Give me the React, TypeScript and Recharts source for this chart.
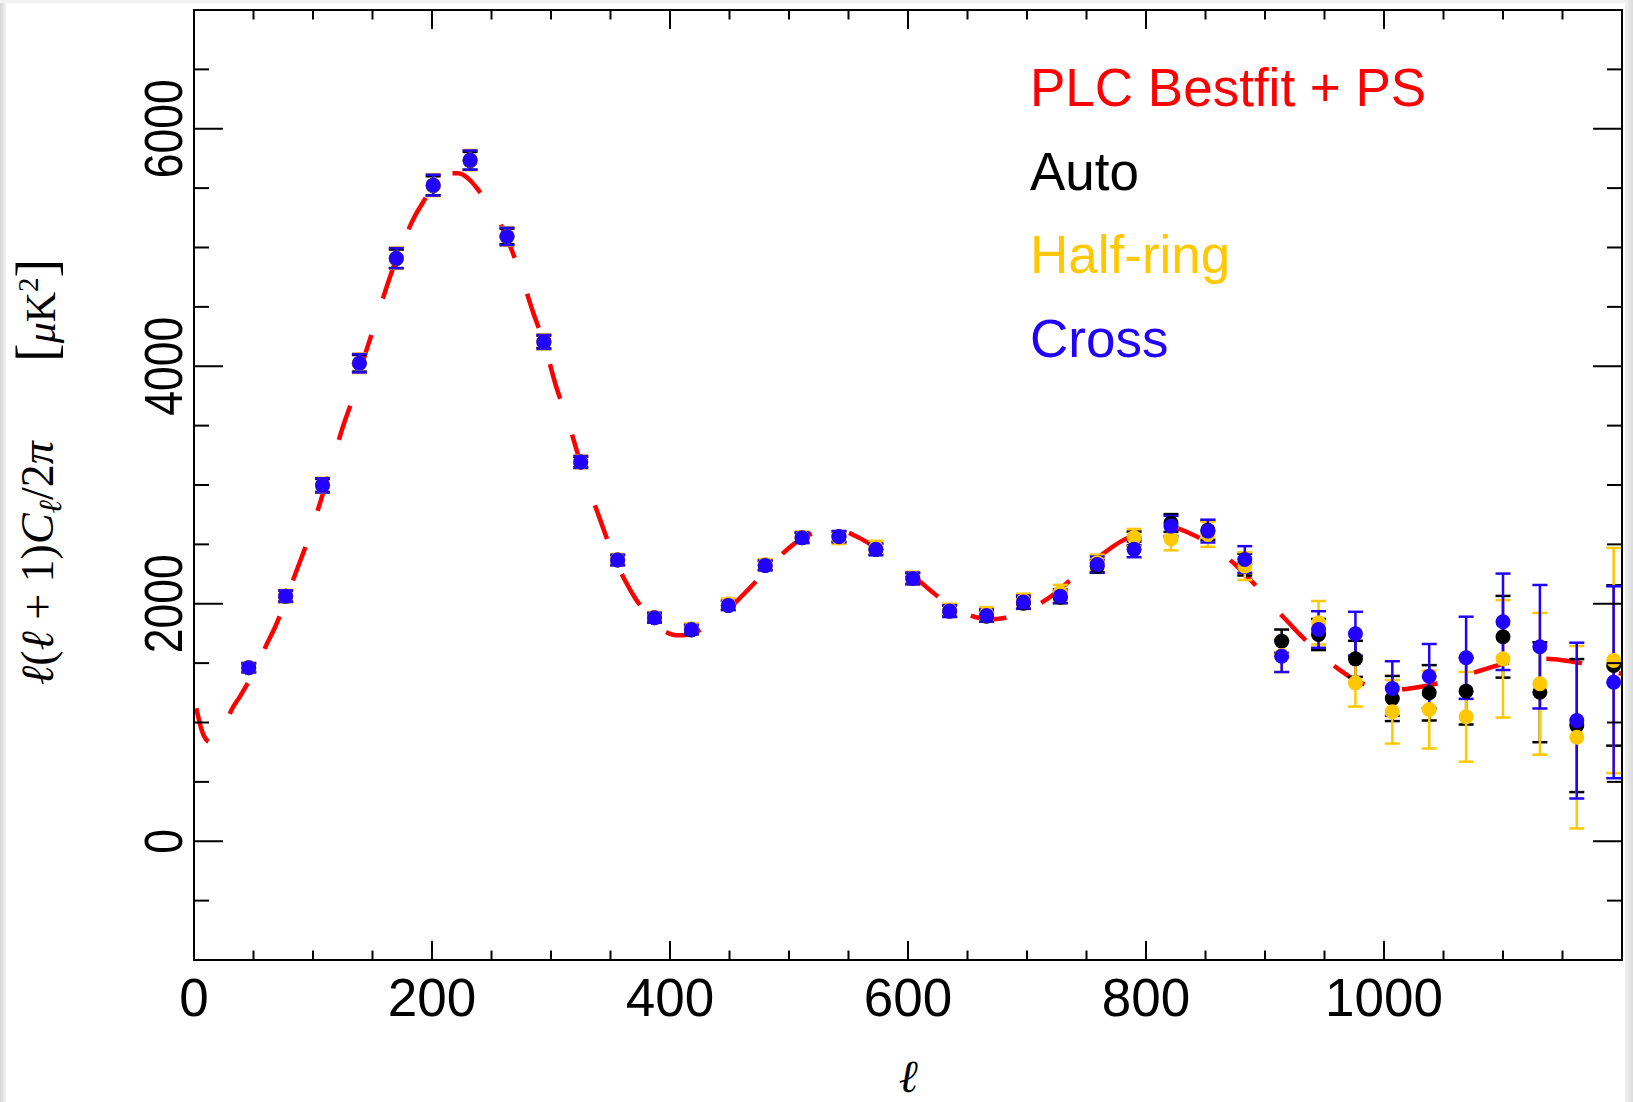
import React from "react";
import { ComposedChart, Line, Scatter, ErrorBar, XAxis, YAxis } from "recharts";

// multipole bin centres
const ells = [
  46, 77, 108, 139, 170, 201, 232, 263, 294, 325, 356, 387, 418, 449, 480, 511,
  542, 573, 604, 635, 666, 697, 728, 759, 790, 821, 852, 883, 914, 945, 976,
  1007, 1038, 1069, 1100, 1131, 1162, 1193,
];

const autoVals = [
  1461, 2064, 2997, 4025, 4905, 5520, 5730, 5093, 4205, 3194, 2368, 1882, 1780,
  1986, 2323, 2556, 2565, 2458, 2213, 1938, 1895, 2005, 2055, 2315, 2550, 2680,
  2620, 2330, 1685, 1741, 1536, 1202, 1250, 1264, 1722, 1255, 974, 1480,
];
const autoErr = [
  35, 45, 55, 70, 78, 80, 75, 66, 52, 44, 40, 38, 36, 36, 38, 40, 42, 44, 44,
  44, 46, 48, 50, 54, 58, 75, 82, 92, 98, 131, 152, 190, 233, 281, 344, 421,
  560, 675,
];

const halfVals = [
  1461, 2064, 2997, 4025, 4910, 5525, 5736, 5093, 4205, 3194, 2370, 1885, 1790,
  2000, 2330, 2560, 2555, 2475, 2215, 1945, 1915, 2025, 2095, 2345, 2558, 2548,
  2584, 2317, 1565, 1840, 1334, 1090, 1109, 1048, 1536, 1326, 876, 1522,
];
const halfErr = [
  42, 52, 64, 82, 90, 93, 86, 78, 63, 54, 49, 46, 44, 44, 46, 49, 52, 55, 55,
  55, 57, 60, 64, 68, 72, 98, 105, 117, 140, 183, 200, 267, 328, 378, 494, 597,
  768, 948,
];

const crossVals = [
  1461, 2064, 2997, 4025, 4910, 5525, 5736, 5093, 4205, 3194, 2368, 1882, 1783,
  1986, 2323, 2556, 2565, 2458, 2213, 1938, 1901, 2014, 2064, 2331, 2458, 2654,
  2612, 2373, 1558, 1783, 1747, 1286, 1390, 1545, 1848, 1638, 1016, 1339,
];
const crossErr = [
  40, 49, 60, 77, 85, 88, 81, 73, 59, 50, 45, 42, 40, 40, 42, 45, 48, 50, 50,
  50, 52, 55, 58, 66, 66, 86, 96, 112, 133, 154, 185, 230, 271, 346, 406, 520,
  656, 808,
];

// best-fit model curve
const modelL = [
  2, 4, 6, 8, 10, 13, 17, 21, 26, 31, 39, 47, 54, 61, 68, 74, 85, 96, 106, 115,
  124, 134, 143, 152, 162, 171, 178, 185, 193, 200, 208, 215, 222, 231, 240,
  250, 258, 265, 275, 285, 294, 304, 314, 326, 333, 344, 353, 362, 370, 380,
  389, 397, 405, 412, 419, 432, 445, 456, 468, 479, 489, 500, 512, 522, 532,
  545, 556, 567, 576, 588, 599, 612, 624, 637, 650, 660, 672, 682, 697, 711,
  724, 736, 749, 763, 778, 793, 807, 823, 837, 851, 865, 876, 886, 897, 908,
  919, 930, 942, 954, 966, 977, 994, 1012, 1027, 1041, 1057, 1073, 1087, 1101,
  1118, 1135, 1150, 1164, 1182, 1200,
];
const modelV = [
  1120, 1030, 950, 895, 860, 835, 840, 880, 970, 1095, 1225, 1364, 1505, 1657,
  1800, 1944, 2247, 2542, 2851, 3146, 3455, 3750, 4073, 4354, 4672, 4930, 5100,
  5253, 5390, 5506, 5590, 5625, 5625, 5576, 5470, 5337, 5190, 5028, 4761, 4452,
  4200, 3840, 3545, 3146, 2941, 2632, 2388, 2200, 2059, 1920, 1811, 1760, 1735,
  1735, 1750, 1820, 1910, 2020, 2143, 2260, 2368, 2470, 2556, 2600, 2620, 2612,
  2570, 2510, 2458, 2370, 2275, 2170, 2070, 1985, 1910, 1880, 1870, 1882, 1930,
  2002, 2090, 2196, 2305, 2415, 2519, 2590, 2632, 2640, 2592, 2520, 2415, 2320,
  2219, 2100, 1966, 1850, 1733, 1620, 1511, 1420, 1348, 1300, 1278, 1295, 1320,
  1365, 1413, 1455, 1497, 1520, 1536, 1525, 1503, 1450, 1410,
];

const xTicks = [
  0, 50, 100, 150, 200, 250, 300, 350, 400, 450, 500, 550, 600, 650, 700, 750,
  800, 850, 900, 950, 1000, 1050, 1100, 1150, 1200,
];
const xLabels = [0, 200, 400, 600, 800, 1000];
const yTicks = [
  -1000, -500, 0, 500, 1000, 1500, 2000, 2500, 3000, 3500, 4000, 4500, 5000,
  5500, 6000, 6500, 7000,
];
const yLabels = [0, 2000, 4000, 6000];

const legendItems = ["PLC Bestfit + PS", "Auto", "Half-ring", "Cross"];
const legendColors = ["#ff0000", "#000000", "#ffc800", "#2200ff"];

const W = 1633;
const H = 1102;
const LEFT = 194;
const RIGHT = 1622;
const TOP = 10;
const BOTTOM = 960;
const SANS = "'Liberation Sans', Arial, Helvetica, sans-serif";
const SERIF = "'Liberation Serif', 'DejaVu Serif', serif";

const toRows = (vals: number[], errs: number[]) =>
  ells.map((l, i) => ({ l, v: vals[i], e: errs[i] }));

const autoData = toRows(autoVals, autoErr);
const halfData = toRows(halfVals, halfErr);
const crossData = toRows(crossVals, crossErr);
const modelData = modelL.map((l, i) => ({ l, v: modelV[i] }));

// ticks point inwards on all four sides; labels only on bottom/left
function XTick(props: any) {
  const { x, payload } = props;
  const v = payload.value;
  const len = v % 200 === 0 ? 19 : 9.5;
  return (
    <g>
      <line x1={x} x2={x} y1={BOTTOM} y2={BOTTOM - len} stroke="#000" strokeWidth={2} />
      <line x1={x} x2={x} y1={TOP} y2={TOP + len} stroke="#000" strokeWidth={2} />
      {xLabels.includes(v) && (
        <text x={x} y={BOTTOM + 56} textAnchor="middle" fontFamily={SANS} fontSize={53} fill="#000">
          {v}
        </text>
      )}
    </g>
  );
}

function YTick(props: any) {
  const { y, payload } = props;
  const v = payload.value;
  const len = v % 2000 === 0 ? 29 : 15;
  return (
    <g>
      <line x1={LEFT} x2={LEFT + len} y1={y} y2={y} stroke="#000" strokeWidth={2} />
      <line x1={RIGHT} x2={RIGHT - len} y1={y} y2={y} stroke="#000" strokeWidth={2} />
      {yLabels.includes(v) && (
        <text
          transform={`translate(182, ${y}) rotate(-90) scale(0.84, 1)`}
          textAnchor="middle"
          fontFamily={SANS}
          fontSize={53}
          fill="#000"
        >
          {v}
        </text>
      )}
    </g>
  );
}

const dot = (color: string) => (p: any) =>
  <circle cx={p.cx} cy={p.cy} r={7.5} fill={color} />;

export default function App() {
  return (
    <div
      style={{
        position: "absolute",
        left: 0,
        top: 0,
        width: W,
        height: H,
        background: "#ffffff",
        overflow: "hidden",
      }}
    >
      <div
        style={{
          position: "absolute",
          left: 0,
          top: 0,
          width: 6,
          height: H,
          background: "linear-gradient(to right, #d4d4d4, #f4f4f4)",
        }}
      />
      <div
        style={{ position: "absolute", left: 0, top: 0, width: W, height: 3, background: "#f3f3f3" }}
      />
      <div
        style={{
          position: "absolute",
          left: 1625,
          top: 0,
          width: W - 1625,
          height: H,
          background: "linear-gradient(to right, #f0f0f0, #dcdcdc)",
        }}
      />
      <div style={{ position: "absolute", left: 0, top: 0 }}>
        <ComposedChart
          width={W}
          height={H}
          margin={{ top: TOP, right: W - RIGHT, bottom: H - BOTTOM - 1, left: LEFT - 1 }}
        >
          <XAxis
            dataKey="l"
            type="number"
            domain={[0, 1200]}
            allowDataOverflow
            ticks={xTicks}
            interval={0}
            height={1}
            tickSize={1}
            tickMargin={0}
            tickLine={false}
            axisLine={false}
            tick={(p: any) => <XTick {...p} />}
          />
          <YAxis
            type="number"
            domain={[-1000, 7000]}
            allowDataOverflow
            ticks={yTicks}
            interval={0}
            width={1}
            tickSize={1}
            tickMargin={0}
            tickLine={false}
            axisLine={false}
            tick={(p: any) => <YTick {...p} />}
          />
          <Line
            data={modelData}
            dataKey="v"
            type="monotone"
            stroke="#ff0000"
            strokeWidth={4.5}
            strokeDasharray="36 38"
            dot={false}
            activeDot={false}
            isAnimationActive={false}
          />
          <Scatter data={autoData} dataKey="v" shape={dot("#000000")} isAnimationActive={false}>
            <ErrorBar dataKey="e" direction="y" width={7.5} stroke="#000000" strokeWidth={2.5} isAnimationActive={false} />
          </Scatter>
          <Scatter data={halfData} dataKey="v" shape={dot("#ffc800")} isAnimationActive={false}>
            <ErrorBar dataKey="e" direction="y" width={7.5} stroke="#ffc800" strokeWidth={2.5} isAnimationActive={false} />
          </Scatter>
          <Scatter data={crossData} dataKey="v" shape={dot("#2200ff")} isAnimationActive={false}>
            <ErrorBar dataKey="e" direction="y" width={7.5} stroke="#2200ff" strokeWidth={2.5} isAnimationActive={false} />
          </Scatter>
        </ComposedChart>
      </div>
      <svg
        width={W}
        height={H}
        style={{ position: "absolute", left: 0, top: 0, pointerEvents: "none" }}
      >
        <rect
          x={LEFT}
          y={TOP}
          width={RIGHT - LEFT}
          height={BOTTOM - TOP}
          fill="none"
          stroke="#000"
          strokeWidth={2}
        />
        {legendItems.map((t, i) => (
          <text
            key={t}
            x={1030}
            y={106 + i * 83.5}
            fontFamily={SANS}
            fontSize={53}
            fill={legendColors[i]}
          >
            {t}
          </text>
        ))}
        <text
          x={(LEFT + RIGHT) / 2}
          y={1092}
          textAnchor="middle"
          fontFamily={SERIF}
          fontStyle="italic"
          fontSize={46}
          fill="#000"
        >
          ℓ
        </text>
        <text
          transform="translate(53, 685) rotate(-90)"
          fontFamily={SERIF}
          fontSize={46}
          fill="#000"
        >
          <tspan fontStyle="italic">ℓ</tspan>
          <tspan>(</tspan>
          <tspan fontStyle="italic">ℓ</tspan>
          <tspan> + 1)</tspan>
          <tspan fontStyle="italic">C</tspan>
          <tspan fontStyle="italic" fontSize={32} dy={8}>ℓ</tspan>
          <tspan dy={-8}>/2</tspan>
          <tspan fontStyle="italic">π</tspan>
        </text>
        <text
          transform="translate(55, 362) rotate(-90)"
          fontFamily={SERIF}
          fontSize={42}
          fill="#000"
        >
          <tspan fontSize={56}>[</tspan>
          <tspan fontStyle="italic">μ</tspan>
          <tspan>K</tspan>
          <tspan fontSize={29} dy={-17}>2</tspan>
          <tspan fontSize={56} dy={17}>]</tspan>
        </text>
      </svg>
    </div>
  );
}
